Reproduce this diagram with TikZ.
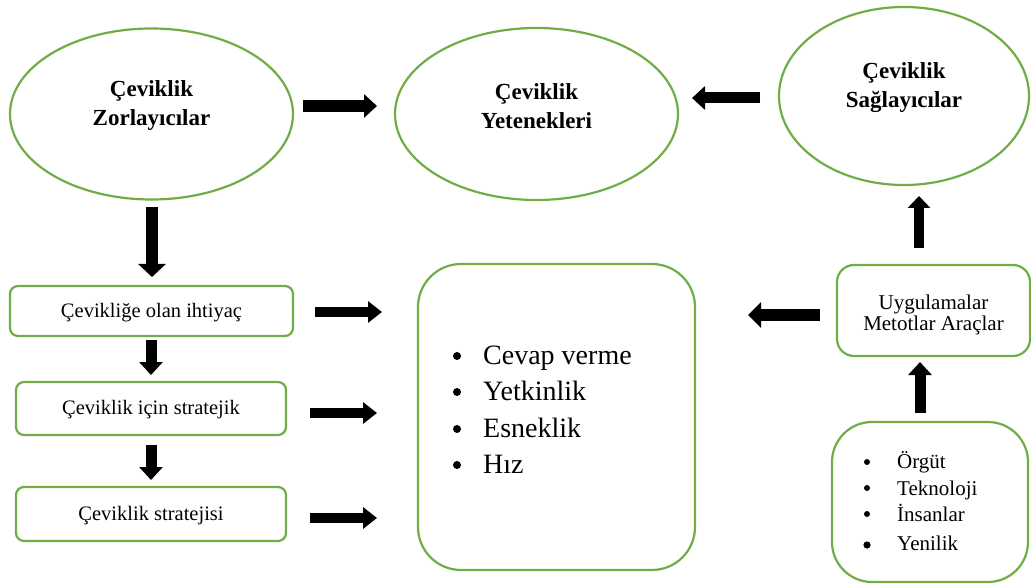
\documentclass[tikz,border=0pt]{standalone}
\usepackage{fontspec}
\setmainfont{Liberation Serif}
\usetikzlibrary{shapes.geometric,arrows.meta}
\definecolor{leaf}{HTML}{70AD47}
\tikzset{
  oval/.style={ellipse, draw=leaf, line width=2.2pt, inner sep=0pt},
  card/.style={rectangle, draw=leaf, line width=2.2pt, rounded corners=#1, inner sep=0pt},
  card/.default=8pt,
  heading/.style={font=\fontsize{23}{29}\selectfont\bfseries, align=center, inner sep=0pt},
  boxtext/.style={font=\fontsize{20.5}{21}\selectfont, align=center, inner sep=0pt},
  bigitem/.style={font=\fontsize{28}{34}\selectfont, anchor=base west, inner sep=0pt},
  smallitem/.style={font=\fontsize{21}{25}\selectfont, anchor=base west, inner sep=0pt},
  fatarrow/.style={line width=#1, -{Triangle[length=13pt,width=23pt]}},
  fatarrow/.default=11pt,
}
\begin{document}
\begin{tikzpicture}[x=1pt,y=-1pt]
\useasboundingbox (0,0) rectangle (1031,585);

% the three ovals
\node[oval, minimum width=283pt, minimum height=171pt] (zor) at (151.5,114) {};
\node[oval, minimum width=283pt, minimum height=172pt] (yet) at (536.5,114) {};
\node[oval, minimum width=250pt, minimum height=178pt] (sag) at (904,96) {};
\node[heading] (zort) at ([yshift=8pt]zor.center) {Çeviklik\\Zorlayıcılar};
\node[heading] (yett) at ([yshift=8pt]yet.center) {Çeviklik\\Yetenekleri};
\node[heading] (sagt) at ([yshift=8pt]sag.center) {Çeviklik\\Sağlayıcılar};

% left column of steps
\node[card, minimum width=283pt, minimum height=50pt] (ihtiyac) at (151.5,311) {};
\node[card, minimum width=270pt, minimum height=53pt] (icin) at (151,408.5) {};
\node[card, minimum width=270pt, minimum height=54pt] (strat) at (151,514) {};
\node[boxtext] (ihtiyact) at ([yshift=-2pt]ihtiyac.center) {Çevikliğe olan ihtiyaç};
\node[boxtext] (icint) at ([yshift=-1pt]icin.center) {Çeviklik için stratejik};
\node[boxtext] (stratt) at ([yshift=-2pt]strat.center) {Çeviklik stratejisi};

% capabilities box
\node[card=43pt, minimum width=277pt, minimum height=306pt] (yetkutu) at (556.5,417) {};
\foreach \t/\y [count=\i] in {Cevap verme/364, Yetkinlik/400, Esneklik/437, Hız/473} {
  \node[bigitem] (yk\i) at (483,\y) {\t};
  \fill (457,\y-8) circle (4pt);
}

% practices and resources
\node[card=17pt, minimum width=193pt, minimum height=91pt] (uyg) at (933.5,310.5) {};
\node[boxtext, font=\fontsize{21}{21}\selectfont] (uygt) at ([yshift=-4pt]uyg.center) {Uygulamalar\\Metotlar Araçlar};
\node[card=40pt, minimum width=196pt, minimum height=160pt] (kaynak) at (930,502) {};
\foreach \t/\y/\b/\r [count=\i] in {Örgüt/468/462/3, Teknoloji/495/488/3, İnsanlar/521/514/3, Yenilik/550/545/3.6} {
  \node[smallitem] (kn\i) at (897,\y) {\t};
  \fill (867,\b) circle (\r pt);
}

% arrow end points
\coordinate (a1s) at (303,106);  \coordinate (a1e) at (377,106);
\coordinate (a2s) at (760,98);   \coordinate (a2e) at (692,98);
\coordinate (d1s) at (152,207);  \coordinate (d1e) at (152,277);
\coordinate (d2s) at (151,340);  \coordinate (d2e) at (151,375);
\coordinate (d3s) at (151,445);  \coordinate (d3e) at (151,480);
\coordinate (r1s) at (315,312);  \coordinate (r1e) at (382,312);
\coordinate (r2s) at (310,413);  \coordinate (r2e) at (377,413);
\coordinate (r3s) at (310,518);  \coordinate (r3e) at (377,518);
\coordinate (l1s) at (820,315);  \coordinate (l1e) at (748,315);
\coordinate (u1s) at (920,413);  \coordinate (u1e) at (920,362);
\coordinate (u2s) at (919,248);  \coordinate (u2e) at (919,196);

\draw[fatarrow=12pt] (a1s) -- (a1e);
\draw[fatarrow=11pt] (a2s) -- (a2e);
\draw[fatarrow=12pt, -{Triangle[length=13pt,width=27pt]}] (d1s) -- (d1e);
\draw[fatarrow=11pt] (d2s) -- (d2e);
\draw[fatarrow=11pt] (d3s) -- (d3e);
\draw[fatarrow=10.5pt, -{Triangle[length=14pt,width=21pt]}] (r1s) -- (r1e);
\draw[fatarrow=10.5pt, -{Triangle[length=14pt,width=21pt]}] (r2s) -- (r2e);
\draw[fatarrow=10.5pt, -{Triangle[length=14pt,width=21pt]}] (r3s) -- (r3e);
\draw[fatarrow=12pt, -{Triangle[length=13pt,width=25pt]}] (l1s) -- (l1e);
\draw[fatarrow=11pt] (u1s) -- (u1e);
\draw[fatarrow=10pt, -{Triangle[length=12pt,width=22pt]}] (u2s) -- (u2e);
\end{tikzpicture}
\end{document}
